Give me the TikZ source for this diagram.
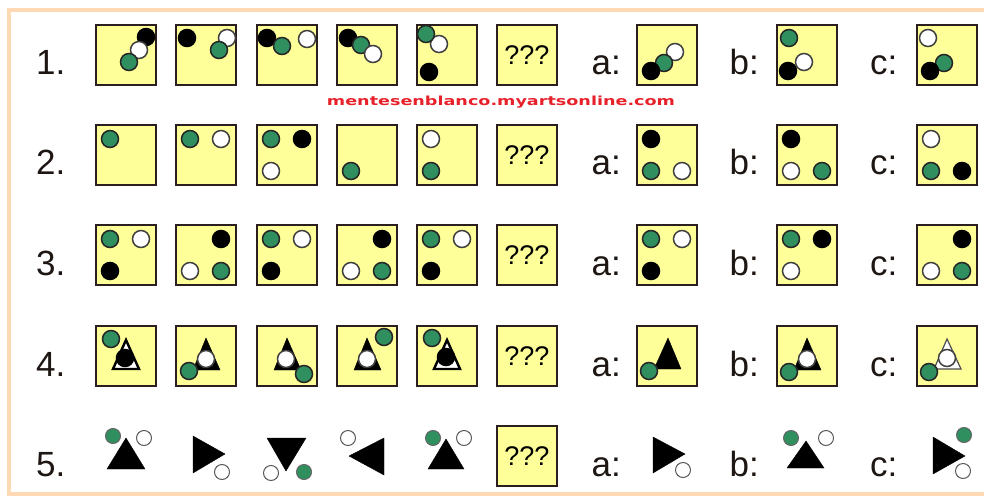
\documentclass[tikz,border=0pt]{standalone}
\usepackage{fontspec}
\setmainfont{Liberation Sans}
\newfontfamily\wmfont{DejaVu Sans}
\usetikzlibrary{positioning, calc}
\definecolor{boxyellow}{HTML}{FFFF99}
\definecolor{boxedge}{HTML}{2A1E1E}
\definecolor{dotgreen}{HTML}{2F8F5F}
\definecolor{framepeach}{HTML}{FFD8B4}
\definecolor{wmred}{HTML}{E8202A}
\definecolor{labelink}{HTML}{1E1612}

\newcommand{\peb}[3]{\draw[#1] (#2,#3) circle[radius=8.5pt];}
\newcommand{\speb}[3]{\draw[#1] (#2,#3) circle[radius=7.5pt];}
\newcommand{\trig}[4]{\draw[#1] (#2) -- (#3) -- (#4) -- cycle;}

\begin{document}
\begin{tikzpicture}[
  x=1pt, y=-1pt,
  cell/.style={rectangle, draw=boxedge, line width=1.8pt, fill=boxyellow, minimum size=60pt,
               inner sep=0pt, anchor=north west, font=\fontsize{27}{27}\selectfont},
  bare/.style={rectangle, minimum size=60pt, inner sep=0pt, anchor=north west},
  num/.style={anchor=base west, inner sep=0pt, text=labelink, font=\fontsize{35}{35}\selectfont},
  wm/.style={anchor=base, text=wmred, inner sep=0pt, font=\wmfont\bfseries},
  incell/.style={shift={(#1.north west)}},
  gdot/.style={draw=black!85, line width=1.5pt, fill=dotgreen},
  wdot/.style={draw=black!75, line width=1.5pt, fill=white},
  kdot/.style={draw=black, line width=1.5pt, fill=black},
  sgdot/.style={draw=black!60, line width=1pt, fill=dotgreen},
  swdot/.style={draw=black!65, line width=1pt, fill=white},
  tri/.style={fill=black},
  otri/.style={draw=black, line width=2.4pt, fill=white},
  thintri/.style={draw=black!70, line width=1.2pt, fill=white},
]
  \useasboundingbox (0,0) rectangle (984,497);
  \draw[framepeach, line width=4pt] (9,10) rectangle (994,494);

  % cells of rows 1-4
  \foreach \r/\yy in {1/23, 2/123, 3/223, 4/324} {
    \foreach \c/\xx in {1/94, 2/174, 3/255, 4/335, 5/415, a/635, b/775, c/915}
      \node[cell] (b\r-\c) at (\xx+1,\yy+1) {};
    \node[cell] (b\r-q) at (496,\yy+1) {???};
    \node[num] (n\r) at (36,\yy+52) {\r.};
    \foreach \c/\xx in {a/591.5, b/729.5, c/870}
      \node[num] (l\r-\c) at (\xx,\yy+52) {\c:};
  }
  % row 5 has no frames round its shapes
  \foreach \c/\xx in {1/94, 2/174, 3/255, 4/335, 5/415, a/635, b/775, c/915}
    \node[bare] (b5-\c) at (\xx+1,425) {};
  \node[cell] (b5-q) at (496,425) {???};
  \node[num] (n5) at (36,476) {5.};
  \foreach \c/\xx in {a/591.5, b/729.5, c/870}
    \node[num] (l5-\c) at (\xx,476) {\c:};

  \node[wm] (site) at (501,106) {\resizebox{348pt}{9.5pt}{mentesenblanco.myartsonline.com}};

  % row 1
  \begin{scope}[incell=b1-1] \peb{kdot}{51}{13} \peb{wdot}{44}{26} \peb{gdot}{34}{38} \end{scope}
  \begin{scope}[incell=b1-2] \peb{kdot}{12}{14} \peb{wdot}{52}{14} \peb{gdot}{44}{26} \end{scope}
  \begin{scope}[incell=b1-3] \peb{kdot}{11}{14} \peb{gdot}{26}{22} \peb{wdot}{51}{15} \end{scope}
  \begin{scope}[incell=b1-4] \peb{kdot}{12}{14} \peb{gdot}{25}{21} \peb{wdot}{37}{30} \end{scope}
  \begin{scope}[incell=b1-5] \peb{wdot}{23}{20} \peb{gdot}{10}{10} \peb{kdot}{13}{48} \end{scope}
  \begin{scope}[incell=b1-a] \peb{wdot}{39}{28} \peb{gdot}{28}{39} \peb{kdot}{15}{47} \end{scope}
  \begin{scope}[incell=b1-b] \peb{gdot}{13}{14} \peb{wdot}{28}{38} \peb{kdot}{12}{47} \end{scope}
  \begin{scope}[incell=b1-c] \peb{wdot}{12}{14} \peb{gdot}{28}{39} \peb{kdot}{14}{47} \end{scope}

  % row 2
  \begin{scope}[incell=b2-1] \peb{gdot}{15}{15} \end{scope}
  \begin{scope}[incell=b2-2] \peb{gdot}{15}{15} \peb{wdot}{46}{15} \end{scope}
  \begin{scope}[incell=b2-3] \peb{gdot}{15}{15} \peb{kdot}{46}{15} \peb{wdot}{15}{47} \end{scope}
  \begin{scope}[incell=b2-4] \peb{gdot}{15}{47} \end{scope}
  \begin{scope}[incell=b2-5] \peb{wdot}{15}{15} \peb{gdot}{15}{47} \end{scope}
  \begin{scope}[incell=b2-a] \peb{kdot}{15}{15} \peb{gdot}{15}{47} \peb{wdot}{46}{47} \end{scope}
  \begin{scope}[incell=b2-b] \peb{kdot}{15}{15} \peb{wdot}{15}{47} \peb{gdot}{46}{47} \end{scope}
  \begin{scope}[incell=b2-c] \peb{wdot}{15}{15} \peb{gdot}{15}{47} \peb{kdot}{46}{47} \end{scope}

  % row 3
  \foreach \c in {1,3,5,a} {
    \begin{scope}[incell=b3-\c] \peb{gdot}{15}{15} \peb{wdot}{46}{15} \peb{kdot}{15}{47} \end{scope}
  }
  \foreach \c in {2,4,c} {
    \begin{scope}[incell=b3-\c] \peb{kdot}{46}{15} \peb{wdot}{15}{47} \peb{gdot}{46}{47} \end{scope}
  }
  \begin{scope}[incell=b3-b] \peb{gdot}{15}{15} \peb{kdot}{46}{15} \peb{wdot}{15}{47} \end{scope}

  % row 4
  \begin{scope}[incell=b4-1] \trig{otri}{31,15}{18,44}{44,44} \peb{kdot}{30}{33} \peb{gdot}{16}{14} \end{scope}
  \begin{scope}[incell=b4-2] \trig{tri}{31,13}{18,45}{45,45} \peb{wdot}{31}{34} \peb{gdot}{14}{46} \end{scope}
  \begin{scope}[incell=b4-3] \trig{tri}{31,13}{18,45}{45,45} \peb{wdot}{30}{34} \peb{gdot}{48}{49} \end{scope}
  \begin{scope}[incell=b4-4] \trig{tri}{31,13}{18,45}{45,45} \peb{wdot}{31}{34} \peb{gdot}{48}{12} \end{scope}
  \begin{scope}[incell=b4-5] \trig{otri}{31,15}{18,44}{44,44} \peb{kdot}{30}{32} \peb{gdot}{16}{13} \end{scope}
  \begin{scope}[incell=b4-a] \trig{tri}{32,13}{18,44}{45,44} \peb{gdot}{13}{46} \end{scope}
  \begin{scope}[incell=b4-b] \trig{tri}{31,13}{18,45}{45,45} \peb{wdot}{31}{34} \peb{gdot}{13}{47} \end{scope}
  \begin{scope}[incell=b4-c] \trig{thintri}{31,14}{18,44}{45,44} \peb{wdot}{31}{33} \peb{gdot}{13}{47} \end{scope}

  % row 5
  \begin{scope}[incell=b5-1] \trig{tri}{31,13}{12,44}{50,44} \speb{sgdot}{18}{11} \speb{swdot}{49}{13} \end{scope}
  \begin{scope}[incell=b5-2] \trig{tri}{18,11}{18,48}{50,29} \speb{swdot}{47}{47} \end{scope}
  \begin{scope}[incell=b5-3] \trig{tri}{11,13}{50,13}{30,46} \speb{swdot}{15}{48} \speb{sgdot}{48}{47} \end{scope}
  \begin{scope}[incell=b5-4] \trig{tri}{48,13}{48,50}{13,31} \speb{swdot}{12}{13} \end{scope}
  \begin{scope}[incell=b5-5] \trig{tri}{30,14}{12,44}{48,44} \speb{sgdot}{17}{13} \speb{swdot}{48}{13} \end{scope}
  \begin{scope}[incell=b5-a] \trig{tri}{17,12}{17,48}{49,29} \speb{swdot}{47}{45} \end{scope}
  \begin{scope}[incell=b5-b] \trig{tri}{30,16}{11,43}{48,43} \speb{sgdot}{15}{13} \speb{swdot}{50}{13} \end{scope}
  \begin{scope}[incell=b5-c] \trig{tri}{17,12}{17,49}{49,31} \speb{sgdot}{48}{10} \speb{swdot}{47}{46} \end{scope}
\end{tikzpicture}
\end{document}
